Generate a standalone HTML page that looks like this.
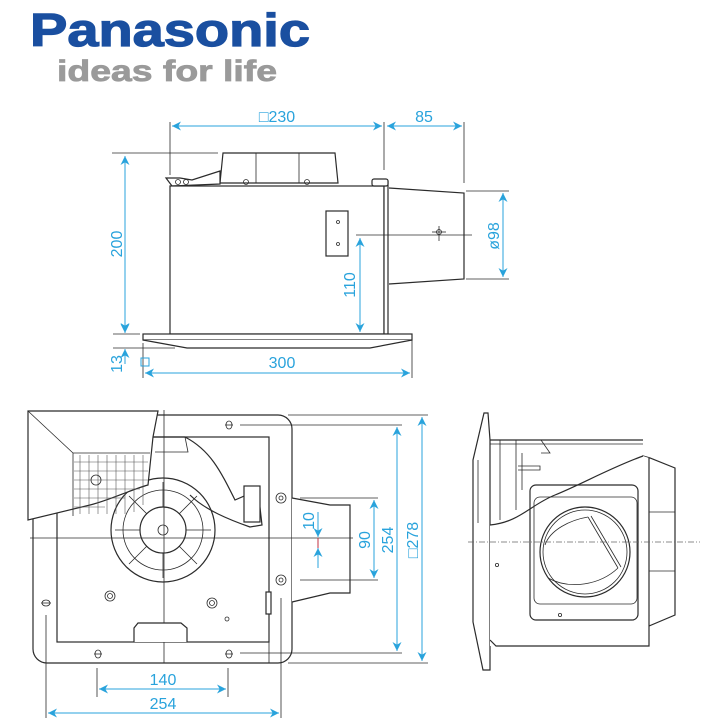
<!DOCTYPE html>
<html><head><meta charset="utf-8"><style>
html,body{margin:0;padding:0;background:#fff;}
svg{display:block;}
text{font-family:"Liberation Sans",sans-serif;}
.l{stroke:#2b2b2b;stroke-width:1.2;fill:none;}
.t{stroke:#2b2b2b;stroke-width:0.8;fill:none;}
.f{stroke:#2b2b2b;stroke-width:1.2;fill:#fff;}
.d{stroke:#29a3dc;stroke-width:1;fill:none;}
.dt{fill:#29a3dc;font-size:16px;}
</style></head><body>
<svg width="710" height="727" viewBox="0 0 710 727" xmlns="http://www.w3.org/2000/svg">
<defs>
<marker id="m" viewBox="0 0 10 10" refX="10" refY="5" markerWidth="9" markerHeight="9" orient="auto-start-reverse" markerUnits="userSpaceOnUse"><path d="M0,0 L10,5 L0,10 L3,5 z" fill="#29a3dc"/></marker>
</defs>
<!-- Logo -->
<text x="30" y="46" font-size="46" font-weight="bold" fill="#1a4fa0" stroke="#1a4fa0" stroke-width="1.2" textLength="280" lengthAdjust="spacingAndGlyphs">Panasonic</text>
<text x="57" y="81" font-size="30" font-weight="bold" fill="#9a9a9a" stroke="#9a9a9a" stroke-width="0.8" textLength="220" lengthAdjust="spacingAndGlyphs">ideas for life</text>

<!-- ===== TOP VIEW ===== -->
<line class="t" x1="170" y1="122" x2="170" y2="175"/>
<line class="t" x1="384" y1="122" x2="384" y2="170"/>
<line class="t" x1="464" y1="122" x2="464" y2="183"/>
<line class="d" x1="172" y1="126" x2="382" y2="126" marker-start="url(#m)" marker-end="url(#m)"/>
<line class="d" x1="387" y1="126" x2="462" y2="126" marker-start="url(#m)" marker-end="url(#m)"/>
<text class="dt" x="277" y="122" text-anchor="middle">□230</text>
<text class="dt" x="424" y="122" text-anchor="middle">85</text>
<line class="t" x1="112" y1="153" x2="218" y2="153"/>
<path class="f" d="M223,153 L335,153 L338,183 L220,183 Z"/>
<line class="t" x1="256" y1="153" x2="256" y2="183"/>
<line class="t" x1="299" y1="153" x2="299" y2="183"/>
<circle class="t" cx="246" cy="182" r="2.5"/><circle class="t" cx="307" cy="182" r="2.5"/>
<path class="f" d="M166,178 L172,186 L220,184 L220,171 L192,180 L180,178 Z"/>
<circle class="t" cx="178" cy="182" r="2.5"/><circle class="t" cx="186" cy="182" r="2.5"/>
<rect class="f" x="170" y="186" width="214" height="148"/>
<rect class="f" x="384" y="181" width="4" height="153"/>
<rect class="f" x="372" y="179" width="16" height="7" rx="2"/>
<path class="f" d="M389,188 L464,193 L464,279 L389,284"/>
<rect class="f" x="326" y="211" width="22" height="45"/>
<circle class="t" cx="338" cy="222" r="1.5"/><circle class="t" cx="338" cy="244" r="1.5"/>
<line class="t" x1="356" y1="235" x2="472" y2="235"/>
<line class="t" x1="439" y1="226" x2="439" y2="241"/><line class="t" x1="432" y1="232" x2="446" y2="232"/>
<circle class="t" cx="439" cy="232" r="2.5"/>
<line class="t" x1="466" y1="191" x2="509" y2="191"/>
<line class="t" x1="466" y1="279" x2="509" y2="279"/>
<line class="d" x1="503" y1="193" x2="503" y2="277" marker-start="url(#m)" marker-end="url(#m)"/>
<text class="dt" transform="translate(499,236) rotate(-90)" text-anchor="middle">ø98</text>
<line class="d" x1="360" y1="238" x2="360" y2="332" marker-start="url(#m)" marker-end="url(#m)"/>
<text class="dt" transform="translate(355,285) rotate(-90)" text-anchor="middle">110</text>
<rect class="f" x="143" y="334" width="269" height="6"/>
<path class="f" d="M143,340 L187,348 L370,348 L412,340"/>
<line class="d" x1="125" y1="156" x2="125" y2="332" marker-start="url(#m)" marker-end="url(#m)"/>
<text class="dt" transform="translate(122,244) rotate(-90)" text-anchor="middle">200</text>
<line class="t" x1="113" y1="334" x2="140" y2="334"/>
<line class="t" x1="113" y1="348" x2="175" y2="348"/>
<line class="d" x1="125" y1="364" x2="125" y2="349" marker-end="url(#m)"/>
<line class="d" x1="125" y1="319" x2="125" y2="333" marker-end="url(#m)"/>
<text class="dt" transform="translate(122,364) rotate(-90)" text-anchor="middle">13</text>
<line class="t" x1="143" y1="343" x2="143" y2="378"/>
<line class="t" x1="412" y1="340" x2="412" y2="378"/>
<line class="d" x1="145" y1="373" x2="410" y2="373" marker-start="url(#m)" marker-end="url(#m)"/>
<text class="dt" x="282" y="368" text-anchor="middle">300</text>
<rect x="141" y="358" width="8" height="8" fill="none" stroke="#29a3dc" stroke-width="1"/>

<!-- ===== BOTTOM VIEW ===== -->
<rect class="f" x="33" y="415" width="259" height="248" rx="14"/>
<rect class="l" x="57" y="437" width="212" height="205"/>
<line class="t" x1="269" y1="437" x2="269" y2="663"/>
<path class="f" d="M292,498 L330,505 L350,505 L350,593 L330,593 L292,602"/>
<path class="l" d="M153,437 L185,437 C210,450 220,470 235,500 L258,490 L262,525 L250,527 C230,520 205,510 190,495"/>
<path class="t" d="M185,437 L188,452 L155,452"/>
<rect class="f" x="244" y="486" width="16" height="36"/>
<circle class="l" cx="163" cy="530" r="52"/>
<circle class="l" cx="163" cy="530" r="23"/>
<circle class="t" cx="163" cy="530" r="5"/>
<g class="t">
<path d="M163,482 L163,507 M163,553 L163,578 M115,530 L140,530 M186,530 L211,530"/>
<path d="M129,496 L147,514 M197,496 L179,514 M129,564 L147,546 M197,564 L179,546"/>
<circle cx="163" cy="530" r="40"/>
</g>
<path class="f" d="M28,411 L158,411 L153,437 L148,485 C130,490 110,500 90,505 L28,520 Z"/>
<line class="t" x1="28" y1="411" x2="73" y2="453"/>
<path class="t" d="M73,453 L150,453 M73,453 L73,516"/>
<g stroke="#555" stroke-width="0.6" fill="none">
<path d="M80,455 V514 M89,455 V514 M98,455 V514 M107,455 V514 M116,455 V514 M125,455 V514 M134,455 V512 M143,455 V505"/>
<path d="M74,462 H148 M74,471 H148 M74,480 H148 M74,489 H140 M74,498 H125 M74,507 H105"/>
</g>
<circle class="t" cx="96" cy="480" r="5"/>
<line class="t" x1="164" y1="410" x2="164" y2="663"/>
<line class="t" x1="30" y1="538" x2="353" y2="538"/>
<circle class="t" cx="110" cy="596" r="5"/><circle class="t" cx="110" cy="596" r="2.5"/>
<circle class="t" cx="212" cy="603" r="5"/><circle class="t" cx="212" cy="603" r="2.5"/>
<circle class="t" cx="227" cy="619" r="2"/>
<path class="f" d="M134,642 L134,628 L138,623 L181,623 L187,628 L187,642"/>
<rect class="f" x="266" y="592" width="5" height="22"/>
<g class="t">
<ellipse cx="229" cy="425" rx="3" ry="4"/><line x1="225" y1="425" x2="233" y2="425"/>
<ellipse cx="98" cy="654" rx="3" ry="4"/><line x1="94" y1="654" x2="102" y2="654"/>
<ellipse cx="229" cy="654" rx="3" ry="4"/><line x1="225" y1="654" x2="233" y2="654"/>
<ellipse cx="46" cy="603" rx="4" ry="3"/><line x1="41" y1="603" x2="51" y2="603"/>
<circle cx="281" cy="498" r="5"/><circle cx="281" cy="498" r="2"/>
<circle cx="281" cy="580" r="5"/><circle cx="281" cy="580" r="2"/>
</g>
<line class="t" x1="288" y1="415" x2="428" y2="415"/>
<line class="t" x1="240" y1="425" x2="402" y2="425"/>
<line class="t" x1="300" y1="498" x2="378" y2="498"/>
<line class="t" x1="300" y1="580" x2="378" y2="580"/>
<line class="t" x1="240" y1="653" x2="402" y2="653"/>
<line class="t" x1="288" y1="663" x2="428" y2="663"/>
<line class="d" x1="422" y1="417" x2="422" y2="661" marker-start="url(#m)" marker-end="url(#m)"/>
<text class="dt" transform="translate(418,540) rotate(-90)" text-anchor="middle">□278</text>
<line class="d" x1="397" y1="427" x2="397" y2="651" marker-start="url(#m)" marker-end="url(#m)"/>
<text class="dt" transform="translate(393,540) rotate(-90)" text-anchor="middle">254</text>
<line class="d" x1="374" y1="500" x2="374" y2="578" marker-start="url(#m)" marker-end="url(#m)"/>
<text class="dt" transform="translate(370,540) rotate(-90)" text-anchor="middle">90</text>
<line class="d" x1="318" y1="512" x2="318" y2="537" marker-end="url(#m)"/>
<line class="d" x1="318" y1="568" x2="318" y2="548" marker-end="url(#m)"/>
<line x1="318" y1="538" x2="318" y2="548" stroke="#c03040" stroke-width="1"/>
<text class="dt" transform="translate(314,521) rotate(-90)" text-anchor="middle">10</text>
<line class="t" x1="97" y1="668" x2="97" y2="697"/>
<line class="t" x1="228" y1="668" x2="228" y2="697"/>
<line class="d" x1="99" y1="689" x2="226" y2="689" marker-start="url(#m)" marker-end="url(#m)"/>
<text class="dt" x="163" y="685" text-anchor="middle">140</text>
<line class="t" x1="46" y1="615" x2="46" y2="718"/>
<line class="t" x1="281" y1="598" x2="281" y2="718"/>
<line class="d" x1="48" y1="713" x2="279" y2="713" marker-start="url(#m)" marker-end="url(#m)"/>
<text class="dt" x="163" y="709" text-anchor="middle">254</text>

<!-- ===== SIDE VIEW ===== -->
<path class="f" d="M473,622 L473,460 L484,413 L488,413 L490,440 L490,670 L483,670 Z"/>
<line class="t" x1="478" y1="460" x2="478" y2="523"/>
<rect class="t" x="490" y="598" width="3" height="20"/>
<line class="l" x1="490" y1="440" x2="643" y2="440"/>
<line class="t" x1="490" y1="444" x2="643" y2="444"/>
<path class="t" d="M500,440 V520 M516,440 V510 M516,440 L541,440 L550,453 L541,453 M522,453 V490 M518,466 L540,466 L540,470 L518,470"/>
<path class="f" d="M643,456 L650,458 L675,468 L675,615 L649,626 Z"/>
<line class="t" x1="649" y1="512" x2="675" y2="512"/>
<line class="t" x1="649" y1="571" x2="675" y2="571"/>
<path d="M490,525 C520,520 530,500 560,494 C590,488 610,465 643,456 L649,458 L649,646 L490,646 Z" fill="#fff" stroke="none"/>
<path class="l" d="M490,525 C520,522 530,505 555,495 C580,485 610,468 643,456"/>
<path class="l" d="M490,640 L496,646 L649,646 L649,458"/>
<rect class="l" x="530" y="485" width="108" height="135" rx="6"/>
<rect class="t" x="534" y="497" width="103" height="107" rx="6"/>
<circle class="l" cx="585" cy="552" r="45"/>
<circle class="t" cx="585" cy="552" r="42"/>
<line class="t" x1="588" y1="517" x2="618" y2="568"/>
<line class="t" x1="591" y1="516" x2="621" y2="567"/>
<path class="t" d="M588,517 C570,520 550,530 545,545 M618,568 C600,585 570,590 548,578"/>
<circle class="t" cx="497" cy="565" r="1.6"/>
<circle class="t" cx="560" cy="615" r="1.6"/>
<line x1="468" y1="542" x2="700" y2="542" stroke="#666" stroke-width="0.7" stroke-dasharray="6,2,1,2"/>
</svg>
</body></html>
